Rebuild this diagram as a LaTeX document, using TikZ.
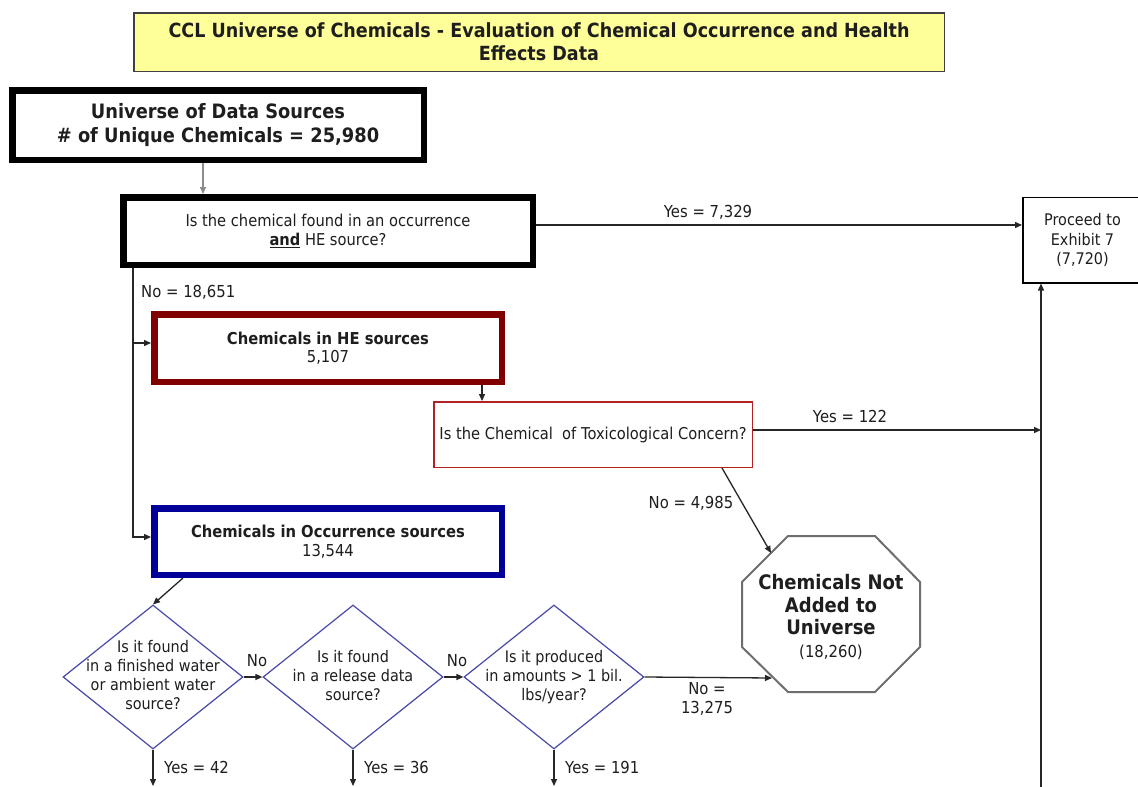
\documentclass[tikz,border=0pt]{standalone}
\usepackage{fontspec}
\setmainfont{DejaVu Sans}[FakeStretch=0.9]
\usetikzlibrary{arrows.meta,shapes.geometric,calc}
\definecolor{ttlfill}{HTML}{FFFF99}
\definecolor{hered}{HTML}{800000}
\definecolor{occblue}{HTML}{000099}
\definecolor{toxred}{HTML}{B22222}
\definecolor{diablue}{HTML}{4A4AA8}
\definecolor{octgray}{HTML}{6E6E6E}
\definecolor{txtc}{HTML}{1E1E1E}
\newcommand\dtext[1]{\raisebox{-10pt}{\smash{\makebox[0pt]{\begin{tabular}{@{}c@{}}#1\end{tabular}}}}}
\begin{document}
\begin{tikzpicture}[x=1pt,y=-1pt,
  every node/.style={text=txtc},
  titlebox/.style={draw=black!75, line width=1.5pt, fill=ttlfill, minimum width=810.5pt, minimum height=58.5pt, align=center, inner sep=0pt, font=\bfseries\fontsize{19.5}{23}\selectfont},
  thickbox/.style={draw=black, line width=6.5pt, fill=white, align=center, inner sep=0pt},
  thinbox/.style={line width=1.5pt, fill=white, align=center, inner sep=0pt},
  dia/.style={diamond, draw=diablue, line width=1.2pt, fill=white, minimum width=180pt, minimum height=144pt, inner sep=0pt, font=\fontsize{16}{19}\selectfont},
  lbl/.style={font=\fontsize{16.5}{19}\selectfont, inner sep=1pt, align=center},
  conn/.style={line width=1.3pt, draw=black!85},
  arr/.style={conn, -{Triangle[length=7pt,width=6pt]}},
  garr/.style={line width=1.5pt, draw=black!45, -{Triangle[length=7pt,width=6pt]}}
]
\useasboundingbox (0,0) rectangle (1138,787);
\fill[white] (0,0) rectangle (1138,787);

% title
\node[titlebox] (title) at (539,42) {CCL Universe of Chemicals - Evaluation of Chemical Occurrence and Health\\Effects Data};

% main boxes
\node[thickbox, minimum width=411.5pt, minimum height=69.5pt, font=\bfseries\fontsize{19.8}{24}\selectfont] (univ) at (218,125) {Universe of Data Sources\\\# of Unique Chemicals = 25,980};
\node[thickbox, minimum width=409.5pt, minimum height=67.5pt, font=\fontsize{16.3}{19}\selectfont] (q1) at (328,231) {Is the chemical found in an occurrence\\\underline{\textbf{and}} HE source?};
\node[thinbox, draw=black, minimum width=119.5pt, minimum height=85.5pt, font=\fontsize{16}{19.5}\selectfont] (proceed) at (1082.5,240) {Proceed to\\Exhibit 7\\(7,720)};
\node[thickbox, draw=hered, minimum width=347.5pt, minimum height=67.5pt, font=\fontsize{16.4}{18.5}\selectfont] (he) at (328,348) {\textbf{Chemicals in HE sources}\\5,107};
\node[thickbox, draw=occblue, minimum width=347.5pt, minimum height=66.5pt, font=\fontsize{16.4}{18.5}\selectfont] (occ) at (328,541.5) {\textbf{Chemicals in Occurrence sources}\\13,544};
\node[thinbox, draw=toxred, minimum width=318.5pt, minimum height=65.5pt, font=\fontsize{16.3}{19}\selectfont] (tox) at (593,434.5) {Is the Chemical\ \ of Toxicological Concern?};

% octagon
\draw[octgray, line width=2pt, fill=white] (788,536) -- (875,536) -- (920,582) -- (920,647) -- (875,692) -- (788,692) -- (742,647) -- (742,582) -- cycle;
\node[align=center, inner sep=0pt, font=\fontsize{16.5}{22.5}\selectfont] (oct) at (831,617) {{\bfseries\fontsize{20}{22.5}\selectfont Chemicals Not}\\{\bfseries\fontsize{20}{22.5}\selectfont Added to}\\{\bfseries\fontsize{20}{22.5}\selectfont Universe}\\(18,260)};
\coordinate (octA) at (771,553);
\coordinate (octB) at (772,678);

% diamonds
\node[dia] (d1) at (153,677) {\dtext{Is it found\\in a finished water\\or ambient water\\source?}};
\node[dia] (d2) at (353,677) {\dtext{Is it found\\in a release data\\source?}};
\node[dia] (d3) at (554,677) {\dtext{Is it produced\\in amounts > 1 bil.\\lbs/year?}};

% connectors
\draw[garr] ([xshift=-15pt]univ.south) -- ([xshift=-125pt]q1.north);

\coordinate (y1) at ([yshift=6pt]q1.east);
\draw[arr] (y1) -- (y1 -| proceed.west);
\node[lbl] (lyes1) at (708,212) {Yes = 7,329};

\coordinate (nov) at ([xshift=-195pt]q1.south);
\coordinate (hein) at ([yshift=5pt]he.west);
\coordinate (occin) at ([yshift=4.5pt]occ.west);
\draw[arr] (nov) |- (occin);
\draw[arr] (nov |- hein) -- (hein);
\node[lbl, anchor=west] (lno1) at (140,292) {No = 18,651};

\draw[arr] ([xshift=154pt]he.south) -- ([xshift=-111pt]tox.north);

\coordinate (upbot) at (1041,787);
\draw[arr] (upbot) -- (upbot |- proceed.south);
\coordinate (t1) at ([yshift=4.5pt]tox.east);
\draw[arr] (t1) -- (t1 -| upbot);
\node[lbl] (lyes2) at (850,416) {Yes = 122};

\draw[arr] ([xshift=129pt]tox.south) -- (octA);
\node[lbl] (lno2) at (691,503) {No = 4,985};

\draw[arr] ([xshift=-145pt]occ.south) -- (d1.north);
\draw[arr] (d1.east) -- (d2.west);
\node[lbl] (lno3) at (257,661) {No};
\draw[arr] (d2.east) -- (d3.west);
\node[lbl] (lno4) at (457,661) {No};
\draw[arr] (d3.east) -- (octB);
\node[lbl] (lno5) at (707,699) {No =\\13,275};

\coordinate (e1) at (153,786);
\coordinate (e2) at (353,786);
\coordinate (e3) at (554,786);
\draw[arr] (d1.south) -- (e1);
\draw[arr] (d2.south) -- (e2);
\draw[arr] (d3.south) -- (e3);
\node[lbl, anchor=west] (ly1) at (163,767) {Yes = 42};
\node[lbl, anchor=west] (ly2) at (363,767) {Yes = 36};
\node[lbl, anchor=west] (ly3) at (564,767) {Yes = 191};
\end{tikzpicture}
\end{document}
